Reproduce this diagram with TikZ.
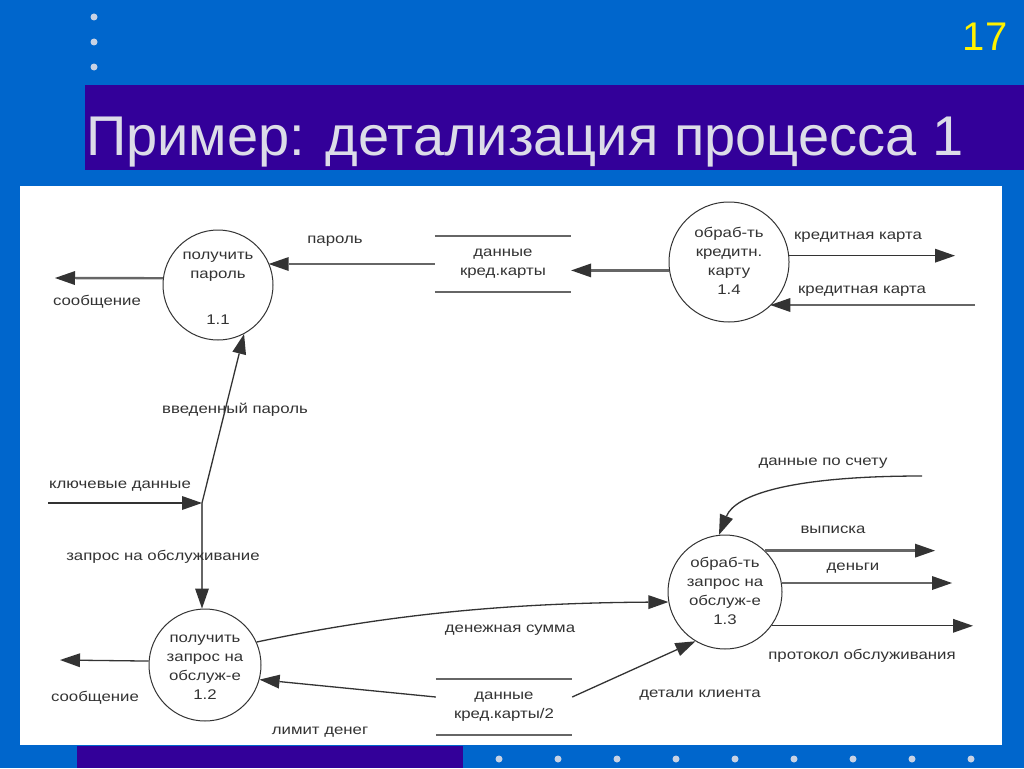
\documentclass[tikz,border=0pt]{standalone}
\usepackage{fontspec}
\setmainfont{Liberation Sans}
\newfontfamily\dfont[FakeStretch=1.2]{Liberation Sans}
\usetikzlibrary{arrows.meta}
\definecolor{bgblue}{HTML}{0066CC}
\definecolor{band}{HTML}{330099}
\definecolor{titlecol}{HTML}{DCDCE8}
\definecolor{dotcol}{HTML}{C8D2E4}
\definecolor{ink}{HTML}{333333}
\definecolor{linecol}{HTML}{666666}
\begin{document}
\begin{tikzpicture}[x=1pt,y=-1pt,
  proc/.style={circle,draw=ink,line width=1pt,minimum size=#1,inner sep=0pt},
  proc/.default=110pt,
  store/.style={minimum width=136pt,minimum height=55pt,inner sep=0pt,font=\dfont\fontsize{14}{19}\selectfont,text=ink,align=center},
  sline/.style={draw=linecol,line width=2.2pt},
  lbl/.style={font=\dfont\fontsize{14}{16}\selectfont,text=ink,inner sep=0pt},
  intext/.style={font=\dfont\fontsize{14}{19}\selectfont,text=ink,align=center,inner sep=0pt},
  flow/.style={draw=linecol,line width=2.4pt,-{Triangle[length=20pt,width=14pt,fill=ink,line width=0pt]}},
  thinflow/.style={draw=ink,line width=1.3pt,-{Triangle[length=20pt,width=14pt,fill=ink,line width=0pt]}},
  dot/.style={circle,fill=dotcol,inner sep=0pt,minimum size=7pt}
]
\useasboundingbox (0,0) rectangle (1024,768);
\fill[bgblue] (0,0) rectangle (1024,768);
% top dots
\foreach \yy [count=\i] in {17,42,67} \node[dot] (td\i) at (94,\yy) {};
% page number
\node[text=yellow,font=\fontsize{40}{40}\selectfont,inner sep=0pt] (pnum) at (985,37) {17};
% title band
\fill[band] (85,85) rectangle (1024,170);
\node[text=titlecol,font=\fontsize{56}{56}\selectfont,anchor=base west,inner sep=0pt] (title) at (86,155) {Пример: детализация процесса 1};
% white panel
\fill[white] (20,186) rectangle (1002,745);
% bottom band and dots
\fill[band] (77,746) rectangle (463,768);
\foreach \xx [count=\i] in {499,558,617,676,735,794,853,912,971} \node[dot] (bd\i) at (\xx,759) {};

% processes
\node[proc] (c11) at (218,285) {};
\node[intext] (t11) at (218,267) {получить\\пароль};
\node[intext] (n11) at (218,320) {1.1};
\node[proc=120pt] (c14) at (729,262) {};
\node[intext] (t14) at (729,261) {обраб-ть\\кредитн.\\карту\\1.4};
\node[proc=112pt] (c12) at (205,665) {};
\node[intext] (t12) at (205,667) {получить\\запрос на\\обслуж-е\\1.2};
\node[proc=114pt] (c13) at (725,592) {};
\node[intext] (t13) at (725,591) {обраб-ть\\запрос на\\обслуж-е\\1.3};

% stores
\node[store] (s1) at (503,264) {данные\\кред.карты};
\draw[sline] (s1.north west) -- (s1.north east);
\draw[sline] (s1.south west) -- (s1.south east);
\node[store] (s2) at (504,707) {данные\\кред.карты/2};
\draw[sline] (s2.north west) -- (s2.north east);
\draw[sline] (s2.south west) -- (s2.south east);

% free ends
\coordinate (m1) at (55,278);
\coordinate (m2) at (60,660);
\coordinate (kin) at (48,503);
\coordinate (j) at (202,503);
\coordinate (ko) at (955,256);
\coordinate (ki) at (975,305);
\coordinate (ds) at (922,476);
\coordinate (o1) at (935,549);
\coordinate (o2) at (952,583);
\coordinate (o3) at (973,626);

% connectors
\draw[flow] (c11.173) -- (m1);
\draw[flow] (s1.west) -- (s1.west -| c11.24);
\draw[flow] (c14.188) -- (c14.188 -| s1.east);
\draw[thinflow] (c14.6) -- (c14.6 -| ko);
\draw[flow] (ki) -- (ki -| c14.-47);
\draw[thinflow] (kin) -- (j);
\draw[thinflow] (j) -- (c11.-62);
\draw[flow] (j) -- (j |- c12.north);
\draw[thinflow] (c12.176) -- (m2);
\draw[thinflow] (c12.24) .. controls (400,612) and (520,603) .. (c13.190);
\draw[thinflow] ([yshift=10pt]s2.west) -- (c12.-15);
\draw[thinflow] ([yshift=10pt]s2.east) -- (c13.-121);
\draw[thinflow] (ds) .. controls (790,476) and (735,495) .. (c13.96);
\draw[flow] (c13.46) -- (c13.46 -| o1);
\draw[flow] (c13.9) -- (c13.9 -| o2);
\draw[thinflow] (c13.-36) -- (c13.-36 -| o3);

% labels
\node[lbl] (lp) at (335,241) {пароль};
\node[lbl] (lm1) at (97,302) {сообщение};
\node[lbl] (lk1) at (858,237) {кредитная карта};
\node[lbl] (lk2) at (862,291) {кредитная карта};
\node[lbl] (lv) at (235,410) {введенный пароль};
\node[lbl] (lkl) at (120,486) {ключевые данные};
\node[lbl] (lz) at (163,557) {запрос на обслуживание};
\node[lbl] (lm2) at (95,698) {сообщение};
\node[lbl] (lds) at (510,630) {денежная сумма};
\node[lbl] (lld) at (320,732) {лимит денег};
\node[lbl] (ldk) at (700,695) {детали клиента};
\node[lbl] (ldc) at (823,463) {данные по счету};
\node[lbl] (lvy) at (833,530) {выписка};
\node[lbl] (lde) at (853,568) {деньги};
\node[lbl] (lpr) at (862,656) {протокол обслуживания};
\end{tikzpicture}
\end{document}
